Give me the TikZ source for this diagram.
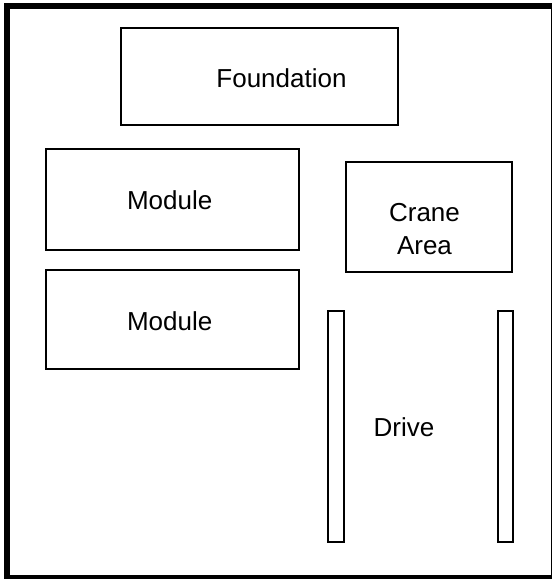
\documentclass[tikz,border=0pt]{standalone}
\usepackage{fontspec}
\setmainfont{Liberation Sans}
\usetikzlibrary{positioning}
\tikzset{
    zone/.style={draw, line width=2pt},
    lbl/.style={inner sep=0pt, font=\fontsize{26}{32.6}\selectfont}
}

\begin{document}
\begin{tikzpicture}[x=1pt, y=-1pt]
                                \useasboundingbox (0, 0) rectangle (552, 579);
                                \clip (0, 0) rectangle (552, 579);
                                \fill[white] (0, 0) rectangle (552, 579);
                                \draw[line width=6pt] (7, 5.5) rectangle (554, 578);
                                % site blocks
                                \draw[zone] (121, 28) rectangle (398, 125);
                                \draw[zone] (46, 149) rectangle (299, 250);
                                \draw[zone] (46, 270) rectangle (299, 369);
                                \draw[zone] (346, 162) rectangle (512, 272);
                                \draw[zone] (328, 311) rectangle (344, 542);
                                \draw[zone] (498, 311) rectangle (513, 542);
                                % labels
                                \node[lbl, anchor=base] (fnd) at (281.5, 87.7) {Foundation};
                                \node[lbl, anchor=base] (mod1) at (169.7, 209) {Module};
                                \node[lbl, anchor=base] (mod2) at (169.7, 330) {Module};
                                \node[lbl, align=center] (crane) at (424.5, 228.8) {Crane\\Area};
                                \node[lbl, anchor=base] (drive) at (404, 436) {Drive};
                            \end{tikzpicture}
\end{document}
